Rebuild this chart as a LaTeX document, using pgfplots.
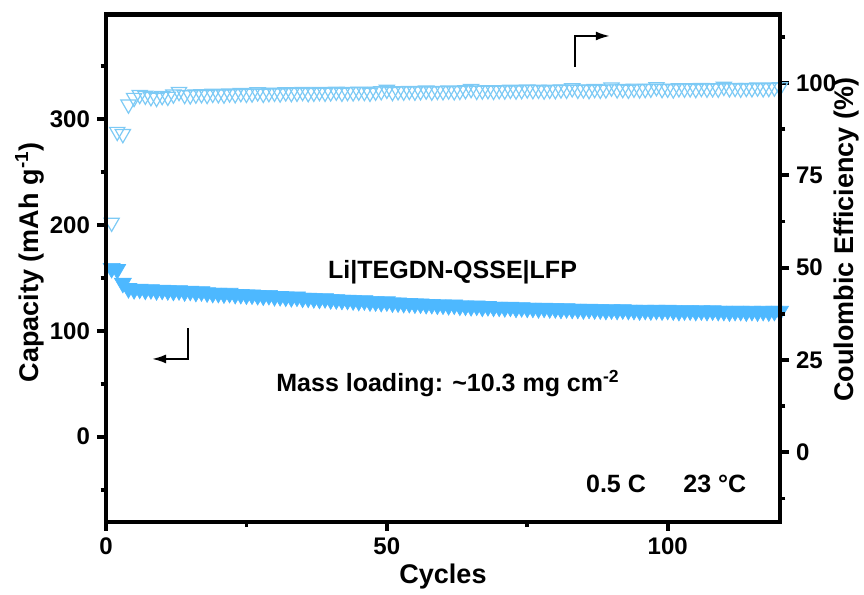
\documentclass[border=0pt]{standalone}
\usepackage{pgfplots}
\pgfplotsset{compat=1.18}
\usepackage{fontspec}
\setmainfont{Liberation Sans}
\usetikzlibrary{calc,arrows.meta}
\definecolor{capblue}{RGB}{77,184,255}
\definecolor{ceblue}{RGB}{125,202,245}

\begin{document}
\begin{tikzpicture}
\pgfplotsset{
  common/.style={
    scale only axis, width=337pt, height=253.5pt,
    xmin=0, xmax=120,
    tick align=outside,
    major tick length=4.5pt, minor tick length=2.7pt,
    every tick/.style={black, line width=1.9pt},
    every major tick/.append style={line width=1.9pt},
    every minor tick/.append style={line width=1.9pt},
    axis line style={line width=2.2pt},
    tick label style={font=\fontsize{12}{14}\selectfont\bfseries},
    /pgf/number format/assume math mode=true,
    label style={font=\fontsize{13.5}{16}\selectfont\bfseries},
  }
}
\begin{axis}[common, name=ax,
  ymin=-80.3, ymax=398.5,
  xtick={0,50,100}, ytick={0,100,200,300},
  minor xtick={25,75}, minor ytick={-50,50,150,250,350},
  xtick pos=bottom, ytick pos=left,
  xlabel={Cycles}, ylabel={Capacity (mAh g\textsuperscript{-1})},
  xlabel style={at={(axis description cs:0.5,-0.109)}, anchor=center},
  ylabel style={at={(axis description cs:-0.113,0.512)}, anchor=center},
]
\addplot[only marks, mark=triangle*, mark size=4.9pt,
  mark options={rotate=180, fill=capblue, draw=capblue, line width=0.3pt}]
  coordinates {
(1,159)(2,158)(3,145)(4,140)(5,139)(6,139.5)(7,138.5)(8,139)(9,138)(10,138.5)
(11,138)(12,137.5)(13,138)(14,137)(15,137.5)(16,136.5)(17,137)(18,136)(19,135.5)(20,135.5)
(21,135)(22,135.5)(23,134.5)(24,134.5)(25,134)(26,134)(27,133.5)(28,133)(29,133.5)(30,132.5)
(31,132.5)(32,132)(33,131.5)(34,132)(35,131)(36,131)(37,130.5)(38,130)(39,130.5)(40,129.5)
(41,129.5)(42,129)(43,129)(44,128.5)(45,128)(46,128.5)(47,127.5)(48,127.5)(49,127)(50,127.5)
(51,126.5)(52,126.5)(53,126)(54,126)(55,125.5)(56,125.5)(57,125)(58,125)(59,124.5)(60,124.5)
(61,124)(62,124.5)(63,123.5)(64,123.5)(65,123)(66,123.5)(67,122.5)(68,123)(69,122.5)(70,122.5)
(71,122)(72,122.5)(73,121.5)(74,122)(75,121.5)(76,121.5)(77,121)(78,121.5)(79,121)(80,121)
(81,120.5)(82,121)(83,120.5)(84,120.5)(85,120)(86,120.5)(87,120)(88,120)(89,119.5)(90,120)
(91,119.5)(92,120)(93,119.5)(94,119.5)(95,119)(96,119.5)(97,119)(98,119.5)(99,119)(100,119.5)
(101,119)(102,118.5)(103,119)(104,119)(105,118.5)(106,119)(107,118.5)(108,119)(109,118.5)(110,118.5)
(111,118)(112,118.5)(113,118.5)(114,118)(115,118.5)(116,118)(117,118.5)(118,118)(119,118.5)(120,118.5)
};
\node[anchor=base, font=\fontsize{12.5}{15}\selectfont\bfseries] at (axis cs:61.7,149.8) {Li|TEGDN-QSSE|LFP};
\node[anchor=base, font=\fontsize{12.5}{15}\selectfont\bfseries] at (axis cs:60.9,42.5) {Mass loading: \textasciitilde10.3 mg cm\textsuperscript{-2}};
\node[anchor=base, font=\fontsize{12.5}{15}\selectfont\bfseries] at (axis cs:90.8,-52.9) {0.5 C};
\node[anchor=base, font=\fontsize{12.5}{15}\selectfont\bfseries] at (axis cs:108.4,-52.9) {23 °C};
\draw[line width=1pt, -{Latex[length=7pt,width=4.5pt]}] (axis cs:14.55,102.6) -- (axis cs:14.55,73.4) -- (axis cs:8.19,73.4);
\draw[line width=1pt, -{Latex[length=7pt,width=4.5pt]}] (axis cs:83.5,349.4) -- (axis cs:83.5,378.4) -- (axis cs:89.7,378.4);
\end{axis}
\begin{axis}[common,
  ymin=-18.8, ymax=118.5,
  axis x line=none, axis y line*=right,
  ytick={0,25,50,75,100}, minor ytick={-12.5,12.5,37.5,62.5,87.5,112.5},
  ylabel={Coulombic Efficiency (\%)},
  ylabel style={at={(axis description cs:1.099,0.556)}, anchor=center},
]
\addplot[only marks, mark=triangle, mark size=4.4pt,
  mark options={rotate=180, draw=ceblue, line width=0.6pt}]
  coordinates {
(1,62.2)(2,86.8)(3,86.2)(4,94.2)(5,96.0)(6,96.8)(7,96.6)(8,96.2)(9,96.0)(10,96.5)
(11,96.3)(12,96.9)(13,97.6)(14,96.8)(15,96.7)(16,96.9)(17,97.0)(18,96.8)(19,97.1)(20,97.0)
(21,96.9)(22,97.2)(23,97.0)(24,97.3)(25,97.1)(26,97.2)(27,97.5)(28,97.1)(29,97.3)(30,97.4)
(31,97.2)(32,97.5)(33,97.3)(34,97.4)(35,97.6)(36,97.3)(37,97.4)(38,97.6)(39,97.4)(40,97.5)
(41,97.7)(42,97.4)(43,97.6)(44,97.5)(45,97.7)(46,97.6)(47,97.4)(48,97.7)(49,97.8)(50,98.2)
(51,97.6)(52,97.8)(53,97.7)(54,97.9)(55,97.7)(56,97.8)(57,98.0)(58,97.7)(59,97.9)(60,97.8)
(61,98.0)(62,97.8)(63,97.9)(64,98.1)(65,98.4)(66,97.9)(67,98.0)(68,98.1)(69,97.9)(70,98.1)
(71,98.0)(72,98.2)(73,98.0)(74,98.1)(75,98.3)(76,98.1)(77,98.2)(78,98.0)(79,98.2)(80,98.1)
(81,98.3)(82,98.2)(83,98.6)(84,98.2)(85,98.3)(86,98.1)(87,98.4)(88,98.2)(89,98.3)(90,98.8)
(91,98.3)(92,98.4)(93,98.2)(94,98.5)(95,98.3)(96,98.4)(97,98.5)(98,98.9)(99,98.4)(100,98.5)
(101,98.3)(102,98.6)(103,98.5)(104,98.6)(105,98.4)(106,98.7)(107,98.5)(108,98.6)(109,98.5)(110,99.0)
(111,98.6)(112,98.7)(113,98.5)(114,98.7)(115,98.6)(116,98.8)(117,98.6)(118,98.7)(119,98.8)(120,98.9)
};
\end{axis}
\draw[line width=2.2pt, line join=miter] (ax.south west) rectangle (ax.north east);
\pgfresetboundingbox
\path[use as bounding box] ($(ax.south west)+(-53pt,-36.15pt)$) rectangle ($(ax.north east)+(42pt,7.35pt)$);
\end{tikzpicture}
\end{document}
